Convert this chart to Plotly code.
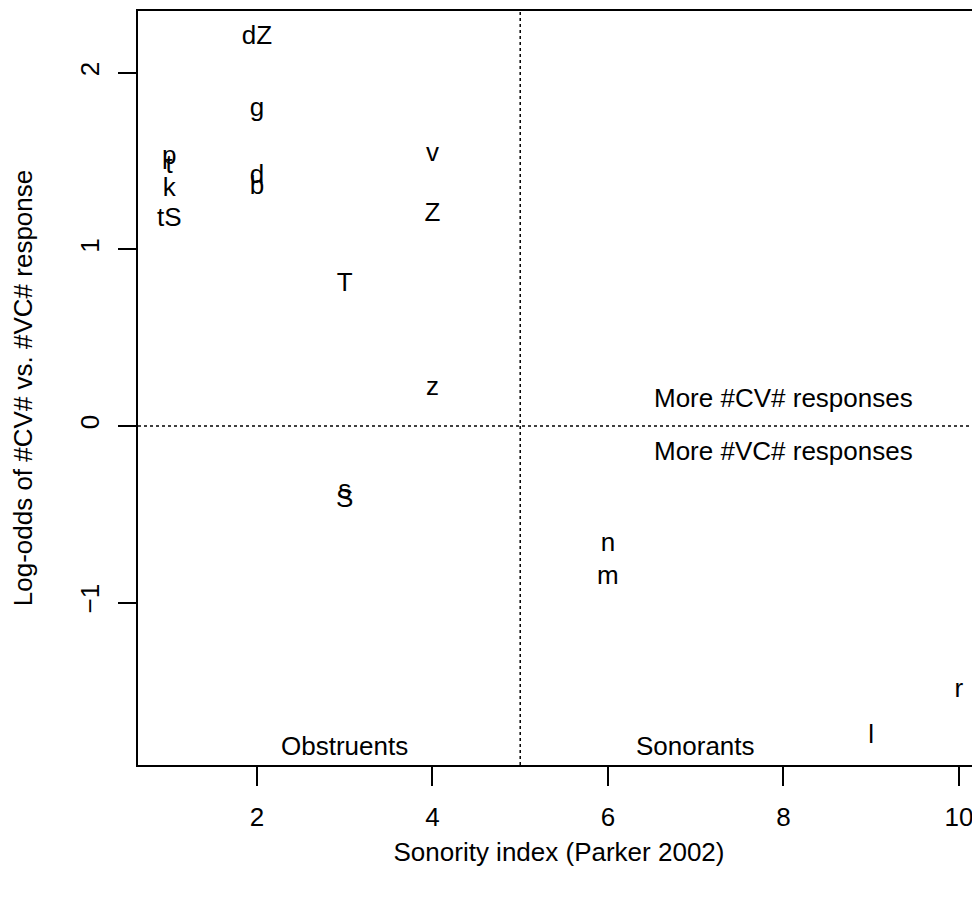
import plotly.graph_objects as go

# --- data ---
segments = ["p", "t", "k", "tS", "dZ", "g", "d", "b", "T", "s", "S", "v", "Z", "z", "n", "m", "l", "r"]
sonority = [1, 1, 1, 1, 2, 2, 2, 2, 3, 3, 3, 4, 4, 4, 6, 6, 9, 10]
log_odds = [1.52, 1.47, 1.34, 1.17, 2.20, 1.79, 1.41, 1.35, 0.80, -0.37, -0.42, 1.54, 1.20, 0.21, -0.67, -0.86, -1.76, -1.50]

x_ticks = [2, 4, 6, 8, 10]
y_ticks = [-1, 0, 1, 2]

boundary_x = 5
boundary_y = 0

note_texts = ["More #CV# responses", "More #VC# responses", "Obstruents", "Sonorants"]
note_x = [8, 8, 3, 7]
note_y = [0.16, -0.14, -1.81, -1.81]

FONT = "Liberation Sans"
FS = 26

fig = go.Figure()
fig.add_trace(go.Scatter(
    x=sonority, y=log_odds, text=segments, mode="text",
    textposition="middle center",
    textfont=dict(family=FONT, size=FS, color="black"),
    showlegend=False, hoverinfo="skip",
))

fig.add_vline(x=boundary_x, line=dict(color="black", width=1.5, dash="dot"))
fig.add_hline(y=boundary_y, line=dict(color="black", width=1.5, dash="dot"))

for t, xx, yy in zip(note_texts, note_x, note_y):
    fig.add_annotation(x=xx, y=yy, text=t, showarrow=False,
                       xanchor="center", yanchor="middle",
                       font=dict(family=FONT, size=FS, color="black"))

fig.update_layout(
    width=972, height=891,
    margin=dict(l=130, r=0, t=3, b=134),
    paper_bgcolor="white", plot_bgcolor="white",
    font=dict(family=FONT, size=FS, color="black"),
    xaxis=dict(
        range=[0.644, 10.24], tickvals=x_ticks, ticks="outside", ticklen=19,
        tickwidth=1.5, tickcolor="black", showgrid=False, zeroline=False,
        showline=True, linecolor="black", linewidth=2, mirror=True,
        ticklabelstandoff=9,
        title=dict(text="Sonority index (Parker 2002)", standoff=12,
                   font=dict(family=FONT, size=FS)),
        tickfont=dict(family=FONT, size=FS),
    ),
    yaxis=dict(
        range=[-1.92, 2.35], tickvals=y_ticks, ticks="outside", ticklen=18,
        tickwidth=1.5, tickcolor="black", showgrid=False, zeroline=False,
        showline=True, linecolor="black", linewidth=2, mirror=False,
        tickangle=-90, ticklabelstandoff=9,
        title=dict(text="Log-odds of #CV# vs. #VC# response", standoff=40,
                   font=dict(family=FONT, size=FS)),
        tickfont=dict(family=FONT, size=FS),
    ),
)

fig.write_html("out.html")
